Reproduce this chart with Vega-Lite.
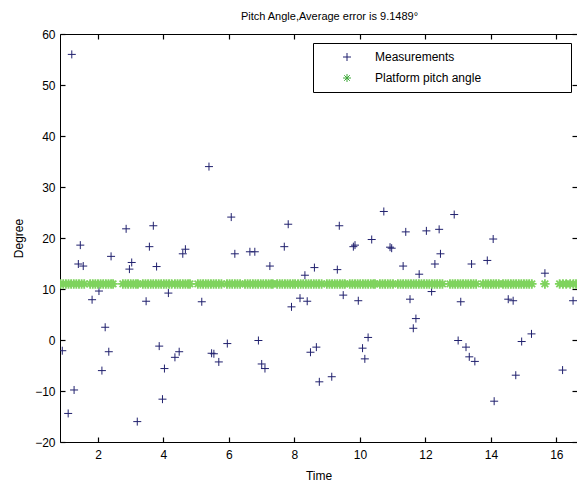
{
  "$schema": "https://vega.github.io/schema/vega-lite/v6.json",
  "width": 517,
  "height": 408,
  "autosize": "none",
  "padding": {"left": 60, "top": 34, "right": 0, "bottom": 43},
  "background": "white",
  "title": {"text": "Pitch Angle,Average error is 9.1489°", "font": "Liberation Sans", "fontSize": 11, "fontWeight": "normal", "color": "black", "offset": 6, "anchor": "middle", "dx": 11},
  "config": {
    "view": {"stroke": "black", "strokeWidth": 1},
    "axis": {"grid": false, "domain": false, "ticks": true, "offset": -5, "labelFont": "Liberation Sans", "labelFontSize": 12, "labelColor": "black", "titleFont": "Liberation Sans", "titleFontSize": 12, "titleFontWeight": "normal", "titleColor": "black", "tickColor": "black", "tickOpacity": 1, "tickSize": 5, "tickWidth": 1.2, "zindex": 1},
    "legend": {"orient": "none", "legendX": 253, "legendY": 9, "strokeColor": "black", "fillColor": "white", "padding": 8, "labelFont": "Liberation Sans", "labelFontSize": 12, "labelColor": "black", "labelLimit": 400, "symbolSize": 64, "symbolStrokeWidth": 1, "rowPadding": 9, "symbolOffset": 20, "labelOffset": 22, "cornerRadius": 0}
  },
  "datasets": {
    "meas": [
      {"t": 1.20, "v": 56, "series": "Measurements"},
      {"t": 5.39, "v": 34, "series": "Measurements"},
      {"t": 2.86, "v": 21.8, "series": "Measurements"},
      {"t": 3.69, "v": 22.4, "series": "Measurements"},
      {"t": 1.46, "v": 18.6, "series": "Measurements"},
      {"t": 3.57, "v": 18.3, "series": "Measurements"},
      {"t": 4.67, "v": 17.8, "series": "Measurements"},
      {"t": 4.59, "v": 16.9, "series": "Measurements"},
      {"t": 2.40, "v": 16.4, "series": "Measurements"},
      {"t": 1.40, "v": 14.9, "series": "Measurements"},
      {"t": 1.55, "v": 14.5, "series": "Measurements"},
      {"t": 3.03, "v": 15.2, "series": "Measurements"},
      {"t": 2.96, "v": 13.9, "series": "Measurements"},
      {"t": 3.79, "v": 14.4, "series": "Measurements"},
      {"t": 2.03, "v": 9.6, "series": "Measurements"},
      {"t": 1.82, "v": 7.9, "series": "Measurements"},
      {"t": 3.47, "v": 7.6, "series": "Measurements"},
      {"t": 4.15, "v": 9.2, "series": "Measurements"},
      {"t": 5.17, "v": 7.5, "series": "Measurements"},
      {"t": 2.22, "v": 2.5, "series": "Measurements"},
      {"t": 0.91, "v": -2.1, "series": "Measurements"},
      {"t": 2.33, "v": -2.3, "series": "Measurements"},
      {"t": 3.87, "v": -1.2, "series": "Measurements"},
      {"t": 4.48, "v": -2.3, "series": "Measurements"},
      {"t": 4.35, "v": -3.4, "series": "Measurements"},
      {"t": 4.03, "v": -5.6, "series": "Measurements"},
      {"t": 2.12, "v": -6.0, "series": "Measurements"},
      {"t": 5.47, "v": -2.6, "series": "Measurements"},
      {"t": 5.54, "v": -2.7, "series": "Measurements"},
      {"t": 5.69, "v": -4.3, "series": "Measurements"},
      {"t": 5.95, "v": -0.7, "series": "Measurements"},
      {"t": 1.27, "v": -9.8, "series": "Measurements"},
      {"t": 1.09, "v": -14.4, "series": "Measurements"},
      {"t": 3.97, "v": -11.6, "series": "Measurements"},
      {"t": 3.20, "v": -16.0, "series": "Measurements"},
      {"t": 6.07, "v": 24.1, "series": "Measurements"},
      {"t": 7.81, "v": 22.7, "series": "Measurements"},
      {"t": 9.37, "v": 22.4, "series": "Measurements"},
      {"t": 10.73, "v": 25.2, "series": "Measurements"},
      {"t": 10.36, "v": 19.7, "series": "Measurements"},
      {"t": 7.69, "v": 18.3, "series": "Measurements"},
      {"t": 9.80, "v": 18.3, "series": "Measurements"},
      {"t": 9.85, "v": 18.6, "series": "Measurements"},
      {"t": 10.92, "v": 18.2, "series": "Measurements"},
      {"t": 10.97, "v": 18.0, "series": "Measurements"},
      {"t": 6.18, "v": 16.9, "series": "Measurements"},
      {"t": 6.64, "v": 17.3, "series": "Measurements"},
      {"t": 6.79, "v": 17.3, "series": "Measurements"},
      {"t": 7.25, "v": 14.5, "series": "Measurements"},
      {"t": 8.61, "v": 14.2, "series": "Measurements"},
      {"t": 8.32, "v": 12.7, "series": "Measurements"},
      {"t": 9.31, "v": 13.8, "series": "Measurements"},
      {"t": 7.91, "v": 6.5, "series": "Measurements"},
      {"t": 8.17, "v": 8.2, "series": "Measurements"},
      {"t": 8.39, "v": 7.6, "series": "Measurements"},
      {"t": 9.49, "v": 8.8, "series": "Measurements"},
      {"t": 9.95, "v": 7.7, "series": "Measurements"},
      {"t": 6.90, "v": -0.1, "series": "Measurements"},
      {"t": 7.00, "v": -4.7, "series": "Measurements"},
      {"t": 7.10, "v": -5.6, "series": "Measurements"},
      {"t": 8.67, "v": -1.4, "series": "Measurements"},
      {"t": 8.49, "v": -2.4, "series": "Measurements"},
      {"t": 10.25, "v": 0.5, "series": "Measurements"},
      {"t": 10.08, "v": -1.6, "series": "Measurements"},
      {"t": 10.15, "v": -3.7, "series": "Measurements"},
      {"t": 8.76, "v": -8.2, "series": "Measurements"},
      {"t": 9.14, "v": -7.2, "series": "Measurements"},
      {"t": 12.88, "v": 24.6, "series": "Measurements"},
      {"t": 11.40, "v": 21.2, "series": "Measurements"},
      {"t": 12.03, "v": 21.4, "series": "Measurements"},
      {"t": 12.42, "v": 21.7, "series": "Measurements"},
      {"t": 14.07, "v": 19.8, "series": "Measurements"},
      {"t": 12.46, "v": 16.9, "series": "Measurements"},
      {"t": 12.29, "v": 14.9, "series": "Measurements"},
      {"t": 11.32, "v": 14.5, "series": "Measurements"},
      {"t": 11.81, "v": 12.9, "series": "Measurements"},
      {"t": 13.41, "v": 14.9, "series": "Measurements"},
      {"t": 13.89, "v": 15.6, "series": "Measurements"},
      {"t": 15.65, "v": 13.1, "series": "Measurements"},
      {"t": 12.19, "v": 9.5, "series": "Measurements"},
      {"t": 11.53, "v": 8.0, "series": "Measurements"},
      {"t": 13.08, "v": 7.5, "series": "Measurements"},
      {"t": 14.53, "v": 8.0, "series": "Measurements"},
      {"t": 14.68, "v": 7.7, "series": "Measurements"},
      {"t": 16.51, "v": 7.7, "series": "Measurements"},
      {"t": 11.71, "v": 4.2, "series": "Measurements"},
      {"t": 11.63, "v": 2.3, "series": "Measurements"},
      {"t": 13.00, "v": -0.1, "series": "Measurements"},
      {"t": 13.24, "v": -1.4, "series": "Measurements"},
      {"t": 13.34, "v": -3.3, "series": "Measurements"},
      {"t": 13.51, "v": -4.2, "series": "Measurements"},
      {"t": 14.94, "v": -0.3, "series": "Measurements"},
      {"t": 15.24, "v": 1.2, "series": "Measurements"},
      {"t": 14.76, "v": -6.9, "series": "Measurements"},
      {"t": 16.19, "v": -5.9, "series": "Measurements"},
      {"t": 14.10, "v": -12.0, "series": "Measurements"}
    ],
    "plat": [
      {"t": 0.86, "v": 11, "series": "Platform pitch angle"}, {"t": 0.94, "v": 11, "series": "Platform pitch angle"}, {"t": 1.02, "v": 11, "series": "Platform pitch angle"}, {"t": 1.10, "v": 11, "series": "Platform pitch angle"}, {"t": 1.18, "v": 11, "series": "Platform pitch angle"}, {"t": 1.26, "v": 11, "series": "Platform pitch angle"}, {"t": 1.34, "v": 11, "series": "Platform pitch angle"}, {"t": 1.42, "v": 11, "series": "Platform pitch angle"}, {"t": 1.50, "v": 11, "series": "Platform pitch angle"}, {"t": 1.58, "v": 11, "series": "Platform pitch angle"},
      {"t": 1.76, "v": 11, "series": "Platform pitch angle"}, {"t": 1.84, "v": 11, "series": "Platform pitch angle"}, {"t": 1.92, "v": 11, "series": "Platform pitch angle"}, {"t": 2.00, "v": 11, "series": "Platform pitch angle"}, {"t": 2.08, "v": 11, "series": "Platform pitch angle"}, {"t": 2.16, "v": 11, "series": "Platform pitch angle"}, {"t": 2.24, "v": 11, "series": "Platform pitch angle"}, {"t": 2.32, "v": 11, "series": "Platform pitch angle"}, {"t": 2.40, "v": 11, "series": "Platform pitch angle"}, {"t": 2.46, "v": 11, "series": "Platform pitch angle"},
      {"t": 2.76, "v": 11, "series": "Platform pitch angle"}, {"t": 2.84, "v": 11, "series": "Platform pitch angle"}, {"t": 2.92, "v": 11, "series": "Platform pitch angle"}, {"t": 3.00, "v": 11, "series": "Platform pitch angle"}, {"t": 3.08, "v": 11, "series": "Platform pitch angle"}, {"t": 3.16, "v": 11, "series": "Platform pitch angle"}, {"t": 3.22, "v": 11, "series": "Platform pitch angle"},
      {"t": 3.37, "v": 11, "series": "Platform pitch angle"}, {"t": 3.45, "v": 11, "series": "Platform pitch angle"}, {"t": 3.53, "v": 11, "series": "Platform pitch angle"}, {"t": 3.61, "v": 11, "series": "Platform pitch angle"}, {"t": 3.69, "v": 11, "series": "Platform pitch angle"}, {"t": 3.77, "v": 11, "series": "Platform pitch angle"}, {"t": 3.85, "v": 11, "series": "Platform pitch angle"}, {"t": 3.93, "v": 11, "series": "Platform pitch angle"}, {"t": 4.01, "v": 11, "series": "Platform pitch angle"}, {"t": 4.09, "v": 11, "series": "Platform pitch angle"}, {"t": 4.17, "v": 11, "series": "Platform pitch angle"}, {"t": 4.25, "v": 11, "series": "Platform pitch angle"},
      {"t": 4.35, "v": 11, "series": "Platform pitch angle"}, {"t": 4.43, "v": 11, "series": "Platform pitch angle"}, {"t": 4.51, "v": 11, "series": "Platform pitch angle"}, {"t": 4.59, "v": 11, "series": "Platform pitch angle"}, {"t": 4.67, "v": 11, "series": "Platform pitch angle"}, {"t": 4.75, "v": 11, "series": "Platform pitch angle"}, {"t": 4.81, "v": 11, "series": "Platform pitch angle"},
      {"t": 5.05, "v": 11, "series": "Platform pitch angle"}, {"t": 5.13, "v": 11, "series": "Platform pitch angle"}, {"t": 5.21, "v": 11, "series": "Platform pitch angle"}, {"t": 5.29, "v": 11, "series": "Platform pitch angle"}, {"t": 5.37, "v": 11, "series": "Platform pitch angle"}, {"t": 5.45, "v": 11, "series": "Platform pitch angle"}, {"t": 5.53, "v": 11, "series": "Platform pitch angle"}, {"t": 5.61, "v": 11, "series": "Platform pitch angle"}, {"t": 5.69, "v": 11, "series": "Platform pitch angle"}, {"t": 5.77, "v": 11, "series": "Platform pitch angle"},
      {"t": 5.94, "v": 11, "series": "Platform pitch angle"}, {"t": 6.02, "v": 11, "series": "Platform pitch angle"}, {"t": 6.10, "v": 11, "series": "Platform pitch angle"}, {"t": 6.18, "v": 11, "series": "Platform pitch angle"}, {"t": 6.26, "v": 11, "series": "Platform pitch angle"}, {"t": 6.34, "v": 11, "series": "Platform pitch angle"},
      {"t": 6.49, "v": 11, "series": "Platform pitch angle"}, {"t": 6.57, "v": 11, "series": "Platform pitch angle"}, {"t": 6.65, "v": 11, "series": "Platform pitch angle"}, {"t": 6.73, "v": 11, "series": "Platform pitch angle"}, {"t": 6.81, "v": 11, "series": "Platform pitch angle"}, {"t": 6.89, "v": 11, "series": "Platform pitch angle"}, {"t": 6.97, "v": 11, "series": "Platform pitch angle"}, {"t": 7.05, "v": 11, "series": "Platform pitch angle"}, {"t": 7.13, "v": 11, "series": "Platform pitch angle"}, {"t": 7.21, "v": 11, "series": "Platform pitch angle"}, {"t": 7.29, "v": 11, "series": "Platform pitch angle"}, {"t": 7.34, "v": 11, "series": "Platform pitch angle"},
      {"t": 7.47, "v": 11, "series": "Platform pitch angle"}, {"t": 7.55, "v": 11, "series": "Platform pitch angle"}, {"t": 7.63, "v": 11, "series": "Platform pitch angle"}, {"t": 7.71, "v": 11, "series": "Platform pitch angle"}, {"t": 7.79, "v": 11, "series": "Platform pitch angle"}, {"t": 7.87, "v": 11, "series": "Platform pitch angle"}, {"t": 7.95, "v": 11, "series": "Platform pitch angle"}, {"t": 8.02, "v": 11, "series": "Platform pitch angle"},
      {"t": 8.11, "v": 11, "series": "Platform pitch angle"}, {"t": 8.19, "v": 11, "series": "Platform pitch angle"}, {"t": 8.27, "v": 11, "series": "Platform pitch angle"}, {"t": 8.35, "v": 11, "series": "Platform pitch angle"}, {"t": 8.43, "v": 11, "series": "Platform pitch angle"}, {"t": 8.51, "v": 11, "series": "Platform pitch angle"}, {"t": 8.59, "v": 11, "series": "Platform pitch angle"}, {"t": 8.67, "v": 11, "series": "Platform pitch angle"}, {"t": 8.75, "v": 11, "series": "Platform pitch angle"}, {"t": 8.83, "v": 11, "series": "Platform pitch angle"},
      {"t": 8.99, "v": 11, "series": "Platform pitch angle"}, {"t": 9.07, "v": 11, "series": "Platform pitch angle"}, {"t": 9.15, "v": 11, "series": "Platform pitch angle"}, {"t": 9.23, "v": 11, "series": "Platform pitch angle"}, {"t": 9.31, "v": 11, "series": "Platform pitch angle"}, {"t": 9.39, "v": 11, "series": "Platform pitch angle"}, {"t": 9.47, "v": 11, "series": "Platform pitch angle"}, {"t": 9.54, "v": 11, "series": "Platform pitch angle"},
      {"t": 9.69, "v": 11, "series": "Platform pitch angle"}, {"t": 9.77, "v": 11, "series": "Platform pitch angle"}, {"t": 9.85, "v": 11, "series": "Platform pitch angle"}, {"t": 9.93, "v": 11, "series": "Platform pitch angle"}, {"t": 10.01, "v": 11, "series": "Platform pitch angle"}, {"t": 10.09, "v": 11, "series": "Platform pitch angle"}, {"t": 10.17, "v": 11, "series": "Platform pitch angle"}, {"t": 10.25, "v": 11, "series": "Platform pitch angle"}, {"t": 10.33, "v": 11, "series": "Platform pitch angle"}, {"t": 10.41, "v": 11, "series": "Platform pitch angle"}, {"t": 10.46, "v": 11, "series": "Platform pitch angle"},
      {"t": 10.61, "v": 11, "series": "Platform pitch angle"}, {"t": 10.69, "v": 11, "series": "Platform pitch angle"}, {"t": 10.77, "v": 11, "series": "Platform pitch angle"}, {"t": 10.85, "v": 11, "series": "Platform pitch angle"}, {"t": 10.93, "v": 11, "series": "Platform pitch angle"}, {"t": 11.01, "v": 11, "series": "Platform pitch angle"},
      {"t": 11.16, "v": 11, "series": "Platform pitch angle"}, {"t": 11.24, "v": 11, "series": "Platform pitch angle"}, {"t": 11.32, "v": 11, "series": "Platform pitch angle"}, {"t": 11.40, "v": 11, "series": "Platform pitch angle"}, {"t": 11.48, "v": 11, "series": "Platform pitch angle"}, {"t": 11.56, "v": 11, "series": "Platform pitch angle"}, {"t": 11.64, "v": 11, "series": "Platform pitch angle"}, {"t": 11.72, "v": 11, "series": "Platform pitch angle"}, {"t": 11.80, "v": 11, "series": "Platform pitch angle"}, {"t": 11.88, "v": 11, "series": "Platform pitch angle"}, {"t": 11.96, "v": 11, "series": "Platform pitch angle"}, {"t": 12.04, "v": 11, "series": "Platform pitch angle"},
      {"t": 12.12, "v": 11, "series": "Platform pitch angle"}, {"t": 12.20, "v": 11, "series": "Platform pitch angle"}, {"t": 12.28, "v": 11, "series": "Platform pitch angle"}, {"t": 12.36, "v": 11, "series": "Platform pitch angle"}, {"t": 12.44, "v": 11, "series": "Platform pitch angle"}, {"t": 12.52, "v": 11, "series": "Platform pitch angle"},
      {"t": 12.75, "v": 11, "series": "Platform pitch angle"}, {"t": 12.83, "v": 11, "series": "Platform pitch angle"}, {"t": 12.91, "v": 11, "series": "Platform pitch angle"}, {"t": 12.99, "v": 11, "series": "Platform pitch angle"}, {"t": 13.07, "v": 11, "series": "Platform pitch angle"}, {"t": 13.15, "v": 11, "series": "Platform pitch angle"}, {"t": 13.23, "v": 11, "series": "Platform pitch angle"}, {"t": 13.31, "v": 11, "series": "Platform pitch angle"}, {"t": 13.39, "v": 11, "series": "Platform pitch angle"}, {"t": 13.47, "v": 11, "series": "Platform pitch angle"}, {"t": 13.55, "v": 11, "series": "Platform pitch angle"},
      {"t": 13.76, "v": 11, "series": "Platform pitch angle"}, {"t": 13.84, "v": 11, "series": "Platform pitch angle"}, {"t": 13.92, "v": 11, "series": "Platform pitch angle"}, {"t": 14.00, "v": 11, "series": "Platform pitch angle"}, {"t": 14.08, "v": 11, "series": "Platform pitch angle"}, {"t": 14.16, "v": 11, "series": "Platform pitch angle"}, {"t": 14.24, "v": 11, "series": "Platform pitch angle"},
      {"t": 14.37, "v": 11, "series": "Platform pitch angle"}, {"t": 14.45, "v": 11, "series": "Platform pitch angle"}, {"t": 14.53, "v": 11, "series": "Platform pitch angle"}, {"t": 14.61, "v": 11, "series": "Platform pitch angle"}, {"t": 14.69, "v": 11, "series": "Platform pitch angle"}, {"t": 14.77, "v": 11, "series": "Platform pitch angle"}, {"t": 14.85, "v": 11, "series": "Platform pitch angle"}, {"t": 14.93, "v": 11, "series": "Platform pitch angle"}, {"t": 15.01, "v": 11, "series": "Platform pitch angle"}, {"t": 15.09, "v": 11, "series": "Platform pitch angle"}, {"t": 15.17, "v": 11, "series": "Platform pitch angle"}, {"t": 15.25, "v": 11, "series": "Platform pitch angle"},
      {"t": 15.65, "v": 11, "series": "Platform pitch angle"},
      {"t": 16.10, "v": 11, "series": "Platform pitch angle"}, {"t": 16.20, "v": 11, "series": "Platform pitch angle"}, {"t": 16.30, "v": 11, "series": "Platform pitch angle"}, {"t": 16.42, "v": 11, "series": "Platform pitch angle"}, {"t": 16.52, "v": 11, "series": "Platform pitch angle"}, {"t": 16.60, "v": 11, "series": "Platform pitch angle"}
    ]
  },
  "layer": [
    {
      "data": {"name": "meas"},
      "mark": {"type": "point", "filled": false, "strokeWidth": 1, "size": 64, "opacity": 1, "clip": true},
      "encoding": {
        "x": {"field": "t", "type": "quantitative", "scale": {"domain": [0.84, 16.63], "nice": false, "zero": false}, "axis": {"orient": "bottom", "title": "Time", "values": [2, 4, 6, 8, 10, 12, 14, 16], "labelPadding": 7, "titlePadding": 10}},
        "y": {"field": "v", "type": "quantitative", "scale": {"domain": [-20, 60], "nice": false, "zero": false}, "axis": {"orient": "left", "title": "Degree", "values": [-20, -10, 0, 10, 20, 30, 40, 50, 60], "labelPadding": 5, "titlePadding": 9}},
        "color": {"field": "series", "type": "nominal", "scale": {"domain": ["Measurements", "Platform pitch angle"], "range": ["#20206e", "#3fa83a"]}, "legend": {"title": null, "labelExpr": "datum.label + '\u2800\u2800\u2800\u2800\u2800\u2800\u2800\u2800\u2800'"}},
        "shape": {"field": "series", "type": "nominal", "scale": {"domain": ["Measurements", "Platform pitch angle"], "range": ["M-1,0H1M0,-1V1", "M-1,0H1M0,-1V1M-0.7,-0.7L0.7,0.7M-0.7,0.7L0.7,-0.7"]}, "legend": {"title": null, "labelExpr": "datum.label + '\u2800\u2800\u2800\u2800\u2800\u2800\u2800\u2800\u2800'"}}
      }
    },
    {
      "data": {"name": "plat"},
      "mark": {"type": "point", "filled": false, "strokeWidth": 1.8, "size": 90, "opacity": 1, "clip": true, "stroke": "#7fd35e"},
      "encoding": {
        "x": {"field": "t", "type": "quantitative", "axis": {"orient": "top", "title": null, "labels": false, "values": [2, 4, 6, 8, 10, 12, 14, 16]}},
        "y": {"field": "v", "type": "quantitative", "axis": {"orient": "right", "title": null, "labels": false, "values": [-20, -10, 0, 10, 20, 30, 40, 50, 60]}},
        "color": {"field": "series", "type": "nominal"},
        "shape": {"field": "series", "type": "nominal"}
      }
    }
  ],
  "resolve": {"axis": {"x": "independent", "y": "independent"}}
}
